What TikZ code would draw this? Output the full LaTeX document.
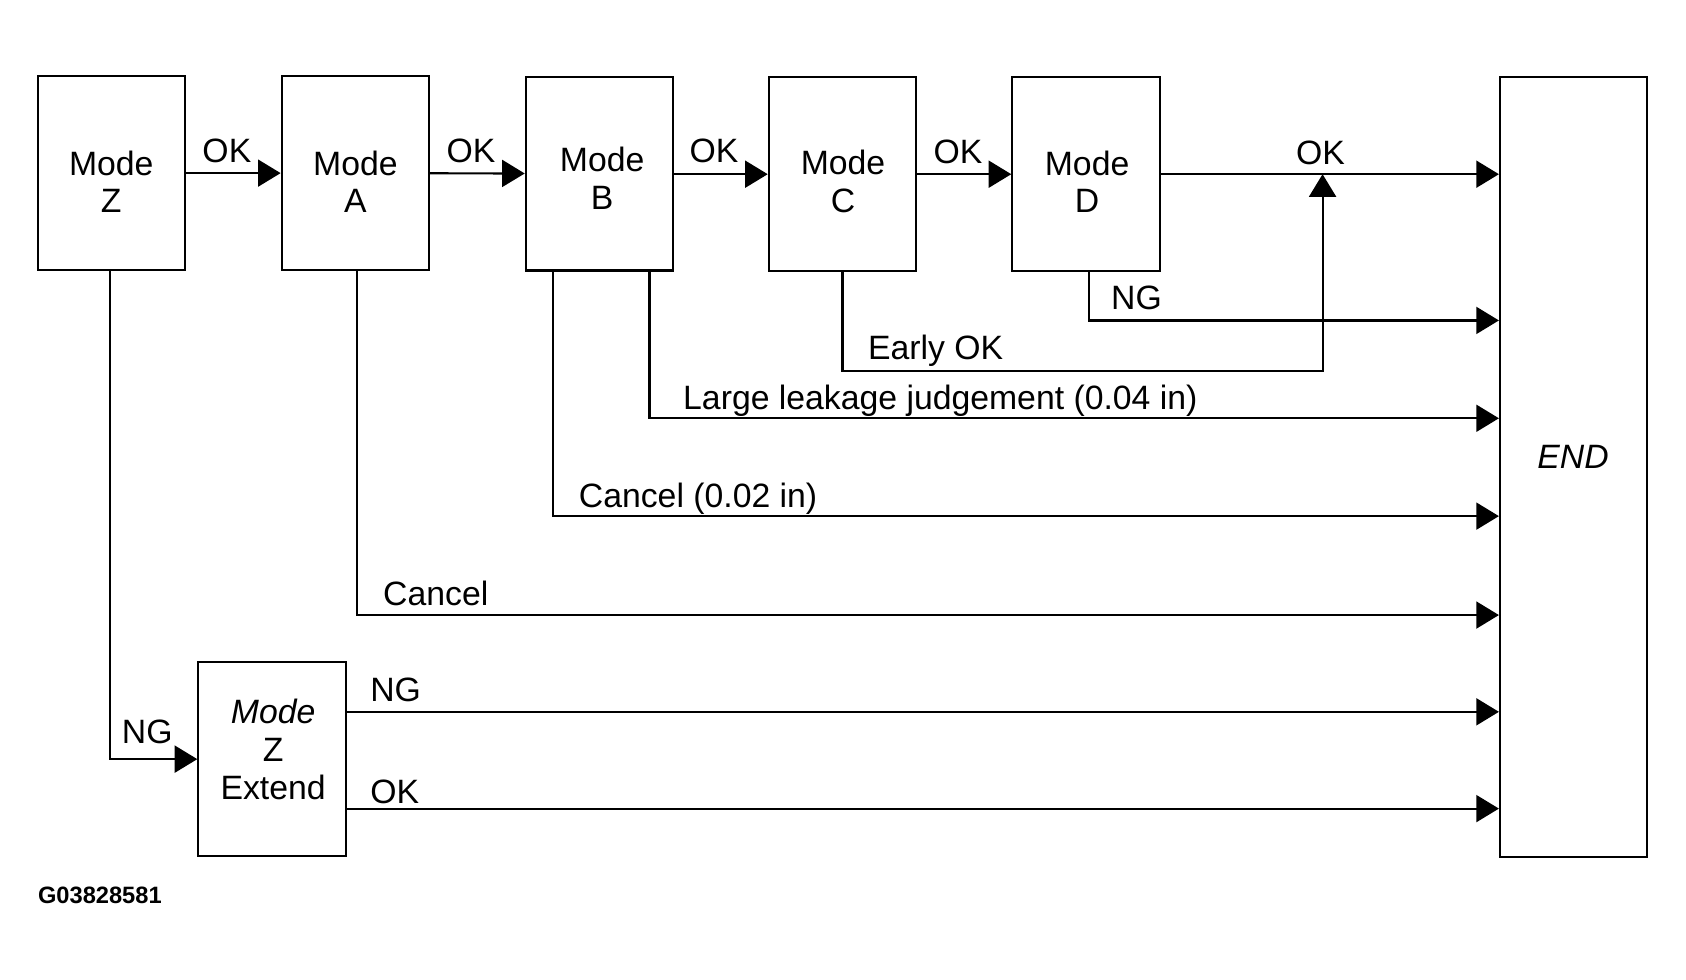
\documentclass[tikz,border=0pt]{standalone}
\usepackage{fontspec}
\setmainfont{Liberation Sans}
\usetikzlibrary{arrows.meta}
\begin{document}
\begin{tikzpicture}[x=0.5pt,y=-0.5pt,
  box/.style={draw, line width=1pt, minimum width=68.5pt, minimum height=90pt, inner sep=0pt},
  txt/.style={align=center, font=\fontsize{15.7}{17.5}\selectfont, inner sep=0pt},
  lbl/.style={font=\fontsize{15.7}{17.5}\selectfont, inner sep=0pt},
  arr/.style={line width=1pt, -{Triangle[length=10.5pt,width=12.5pt]}},
  ln/.style={line width=1pt}]
\useasboundingbox (0,0) rectangle (1568,910.5);
% boxes
\node[box] (z) at (103.5,161) {};
\node[box] (a) at (330.5,161) {};
\node[box] (b) at (557.5,161.5) {};
\node[box] (c) at (783.5,162) {};
\node[box] (d) at (1010,162) {};
\node[box, minimum height=362.5pt] (end) at (1463.5,434.5) {};
\node[box] (ze) at (253,706) {};
% box texts
\node[txt] (zt) at (103.5,169) {Mode\\Z};
\node[txt] (at) at (330.5,169) {Mode\\A};
\node[txt] (bt) at (560,166) {Mode\\B};
\node[txt] (ct) at (784,169) {Mode\\C};
\node[txt] (dt) at (1011,169) {Mode\\D};
\node[txt] (endt) at (1463,425) {\itshape END};
\node[txt] (zet) at (254,697) {\itshape Mode\\Z\\Extend};
\node[anchor=base west, inner sep=0pt, font=\fontsize{11}{13}\selectfont\bfseries] (gid) at (35,840) {G03828581};
% top chain
\draw[arr] (z) -- (a);
\draw[arr] (a) -- (b);
\draw[arr] (b.east |- c) -- (c);
\draw[arr] (c) -- (d);
\draw[arr] (d) -- (d -| end.west);
\node[lbl, anchor=base] (ok1) at (211,151) {OK};
\node[lbl, anchor=base] (ok2) at (438,151) {OK};
\node[lbl, anchor=base] (ok3) at (664,151) {OK};
\node[lbl, anchor=base] (ok4) at (891,152) {OK};
\node[lbl, anchor=base] (ok5) at (1228,153) {OK};
% early OK
\coordinate (okj) at (1230,162);
\draw[arr] (c.south) -- ++(0,92) -| (okj);
\node[lbl, anchor=base west] (eok) at (807,334) {Early OK};
% D NG
\draw[arr] ([xshift=1.5pt]d.south) |- (end.west |- 0,298);
\node[lbl, anchor=base west] (ngd) at (1033,288) {NG};
% B large leakage
\draw[arr] ([xshift=23.25pt]b.south) |- (end.west |- 0,389);
\node[lbl, anchor=base west] (ll) at (635,381) {Large leakage judgement (0.04 in)};
% B cancel
\draw[arr] ([xshift=-21.75pt]b.south) |- (end.west |- 0,480);
\node[lbl, anchor=base west] (cb) at (538,472) {Cancel (0.02 in)};
% A cancel
\draw[arr] ([xshift=0.75pt]a.south) |- (end.west |- 0,572);
\node[lbl, anchor=base west] (ca) at (356,563) {Cancel};
% Z NG
\draw[arr] ([xshift=-0.75pt]z.south) |- (ze.west);
\node[lbl, anchor=base west] (ngz) at (113,691) {NG};
% Extend outputs
\draw[arr] (ze.east |- 0,662) -- (end.west |- 0,662);
\node[lbl, anchor=base west] (nge) at (344,652) {NG};
\draw[arr] (ze.east |- 0,752) -- (end.west |- 0,752);
\node[lbl, anchor=base west] (oke) at (344,747) {OK};
\end{tikzpicture}
\end{document}
